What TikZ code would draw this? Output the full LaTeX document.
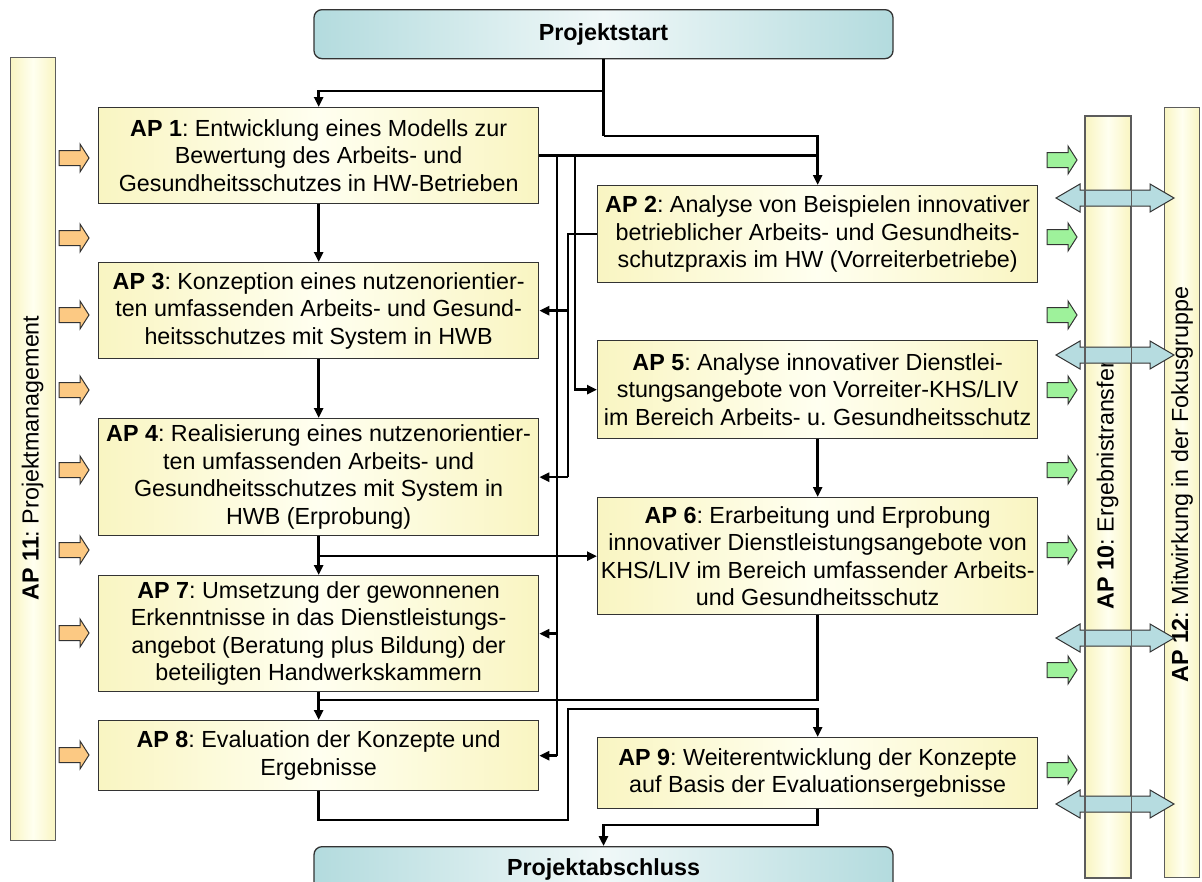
\documentclass[tikz,border=0pt]{standalone}
\usepackage{fontspec}
\setmainfont{Liberation Sans}
\usetikzlibrary{arrows.meta}
\definecolor{ylwE}{HTML}{F9F5C2}
\definecolor{ylwM}{HTML}{FFFFF0}
\definecolor{cyE}{HTML}{B3DBDE}
\definecolor{cyM}{HTML}{F0F8F8}
\definecolor{orA}{HTML}{FCC983}
\definecolor{grA}{HTML}{9EF29B}
\definecolor{blA}{HTML}{B6DCE0}
\definecolor{edgeC}{HTML}{333333}
\frenchspacing
\begin{document}
\begin{tikzpicture}[x=1pt,y=-1pt,
 apbox/.style={draw=edgeC, line width=1.3pt, left color=ylwE, right color=ylwE, middle color=ylwM, inner sep=0pt, align=center, minimum width=440pt, font=\fontsize{23.3}{27.5}\selectfont, anchor=north west},
 endbox/.style={draw=edgeC, line width=1.3pt, rounded corners=8pt, left color=cyE, right color=cyE, middle color=cyM, minimum width=579pt, inner sep=0pt, font=\bfseries\fontsize{23.3}{27.5}\selectfont, anchor=north},
 barbox/.style={draw=edgeC!80, line width=1.1pt, left color=ylwE, right color=ylwE, middle color=ylwM, anchor=north west, inner sep=0pt},
 bartext/.style={rotate=90, font=\fontsize{23.3}{27.5}\selectfont, inner sep=0pt},
 conn/.style={line width=2.6pt, draw=black},
 arr/.style={-{Triangle[length=10pt,width=9pt]}},
 blk/.style={line width=1pt, draw=edgeC, line join=miter},
]
\useasboundingbox (0,0) rectangle (1202,881);

% bars
\node[barbox, minimum width=45pt, minimum height=783pt] (b11) at (10,57) {};
\node[barbox, minimum width=45pt, minimum height=761pt] (b10) at (1085,116) {};
\node[barbox, minimum width=35pt, minimum height=770pt] (b12) at (1164,107) {};
\node[bartext] (t11) at (32.5,458) {\textbf{AP 11}: Projektmanagement};
\node[bartext, anchor=west] (t10) at (1107.5,610) {\textbf{AP 10}: Ergebnistransfer};
\node[bartext, anchor=west] (t12) at (1182,683) {\textbf{AP 12}: Mitwirkung in der Fokusgruppe};

% start / end
\node[endbox, minimum height=49pt] (ps) at (603.5,9) {Projektstart};
\begin{scope}
\clip (0,0) rectangle (1202,881);
\node[endbox, minimum height=46pt] (pe) at (603.5,846) {\raisebox{6pt}{Projektabschluss}};
\end{scope}

% work packages
\node[apbox, minimum height=96pt] (ap1) at (98,107) {\textbf{AP 1}: Entwicklung eines Modells zur\\Bewertung des Arbeits- und\\Gesundheitsschutzes in HW-Betrieben};
\node[apbox, minimum height=96pt] (ap3) at (98,262) {\textbf{AP 3}: Konzeption eines nutzenorientier-\\ten umfassenden Arbeits- und Gesund-\\heitsschutzes mit System in HWB};
\node[apbox, minimum height=117pt] (ap4) at (98,418) {\textbf{AP 4}: Realisierung eines nutzenorientier-\\ten umfassenden Arbeits- und\\Gesundheitsschutzes mit System in\\HWB (Erprobung)};
\node[apbox, minimum height=116pt] (ap7) at (98,575) {\textbf{AP 7}: Umsetzung der gewonnenen\\Erkenntnisse in das Dienstleistungs-\\angebot (Beratung plus Bildung) der\\beteiligten Handwerkskammern};
\node[apbox, minimum height=70pt] (ap8) at (98,720) {\textbf{AP 8}: Evaluation der Konzepte und\\Ergebnisse};
\node[apbox, minimum height=97pt] (ap2) at (597,185) {\textbf{AP 2}: Analyse von Beispielen innovativer\\betrieblicher Arbeits- und Gesundheits-\\schutzpraxis im HW (Vorreiterbetriebe)};
\node[apbox, minimum height=98pt] (ap5) at (597,340) {\textbf{AP 5}: Analyse innovativer Dienstlei-\\stungsangebote von Vorreiter-KHS/LIV\\im Bereich Arbeits- u. Gesundheitsschutz};
\node[apbox, minimum height=117pt] (ap6) at (597,497) {\textbf{AP 6}: Erarbeitung und Erprobung\\innovativer Dienstleistungsangebote von\\KHS/LIV im Bereich umfassender Arbeits-\\und Gesundheitsschutz};
\node[apbox, minimum height=71pt] (ap9) at (597,737) {\textbf{AP 9}: Weiterentwicklung der Konzepte\\auf Basis der Evaluationsergebnisse};

% helper coordinates
\coordinate (vA) at (557,0);
\coordinate (vB) at (568,0);
\coordinate (vC) at (575,0);
\coordinate (jA) at (603.5,91);
\coordinate (jB) at (603.5,136);
\coordinate (k1) at (318,700);
\coordinate (m1) at (568,820);
\coordinate (m2) at (568,709);
\coordinate (n1) at (603.5,825);

% connectors
\draw[conn] (ps.south) -- (jB);
\draw[conn,arr] (jA) -| (ap1.north);
\draw[conn,arr] (jB) -| (ap2.north);
\draw[conn] (ap1.east) -- (ap1.east -| ap2.north);
\draw[conn] (vA |- ap1.east) -- (vA |- ap8.east);
\draw[conn,arr] (vA |- ap7.east) -- (ap7.east);
\draw[conn,arr] (vA |- ap8.east) -- (ap8.east);
\draw[conn,arr] (vC |- ap1.east) |- (ap5.west);
\draw[conn] (ap2.west) -| (vB |- ap4.east);
\draw[conn,arr] (vB |- ap3.east) -- (ap3.east);
\draw[conn,arr] (vB |- ap4.east) -- (ap4.east);
\draw[conn,arr] (ap1.south) -- (ap3.north);
\draw[conn,arr] (ap3.south) -- (ap4.north);
\draw[conn,arr] (ap4.south) -- (ap7.north);
\draw[conn,arr] (ap7.south) -- (ap8.north);
\draw[conn,arr] (ap5.south) -- (ap6.north);
\draw[conn,arr] (ap4.south |- ap6.west) -- (ap6.west);
\draw[conn] (ap6.south) |- (k1);
\draw[conn,arr] (ap8.south) |- (m1) -- (m2) -| (ap9.north);
\draw[conn,arr] (ap9.south) |- (n1) -- (pe.north);

% orange arrows from AP 11
\foreach \yy in {158,238,315,390,470,550,633,755}
  \draw[blk, fill=orA] (59,\yy-7.5) -- (80,\yy-7.5) -- (80,\yy-14) -- (89,\yy) -- (80,\yy+14) -- (80,\yy+7.5) -- (59,\yy+7.5) -- cycle;
% green arrows to AP 10
\foreach \yy in {160,237,315,390,470,550,670,770}
  \draw[blk, fill=grA] (1047,\yy-7.5) -- (1068,\yy-7.5) -- (1068,\yy-14) -- (1077,\yy) -- (1068,\yy+14) -- (1068,\yy+7.5) -- (1047,\yy+7.5) -- cycle;
% double arrows
\foreach \yy in {198,355,638,804}
  \draw[blk, fill=blA] (1056,\yy) -- (1080,\yy-14) -- (1080,\yy-8) -- (1150,\yy-8) -- (1150,\yy-14) -- (1174,\yy) -- (1150,\yy+14) -- (1150,\yy+8) -- (1080,\yy+8) -- (1080,\yy+14) -- cycle;
\draw[draw=edgeC!80, line width=1.1pt] (b10.north west) rectangle (b10.south east);
\end{tikzpicture}
\end{document}
